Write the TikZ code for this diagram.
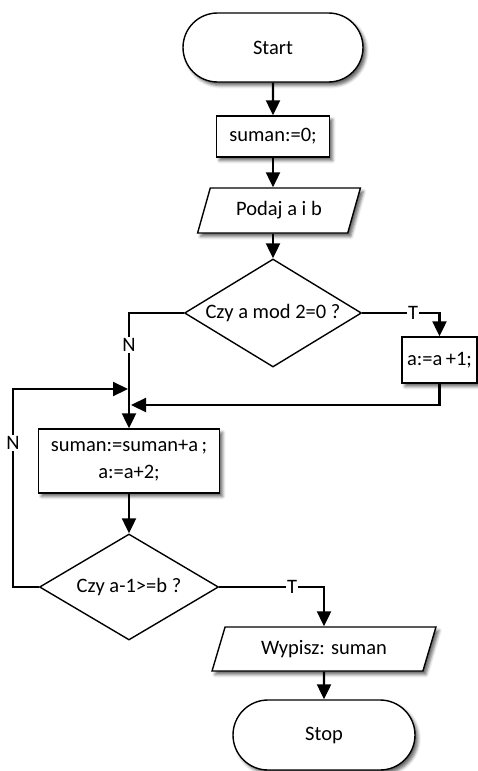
\documentclass[tikz,border=0pt]{standalone}
\usepackage{fontspec}
\setmainfont{Carlito}
\usetikzlibrary{shapes.geometric,shapes.misc,arrows.meta,shadows.blur}

\begin{document}
\begin{tikzpicture}[x=1pt,y=-1pt,
  font=\fontsize{20.5}{27}\selectfont,
  shapebase/.style={draw=black, line width=1.4pt, fill=white, inner sep=0pt},
  softshadow/.style={blur shadow={shadow xshift=3pt, shadow yshift=-3.5pt,
      shadow blur radius=3pt, shadow opacity=60}},
  terminal/.style={shapebase, softshadow, rounded rectangle},
  process/.style={shapebase, softshadow, rectangle, align=center},
  io/.style={shapebase, softshadow, trapezium, trapezium stretches=true},
  decision/.style={shapebase, diamond},
  flow/.style={line width=2.2pt, -{Triangle[length=15pt,width=14pt]}},
  branch/.style={fill=white, inner sep=1pt}
]
\useasboundingbox (0,0) rectangle (478,771);

% blocks
\node[terminal, minimum width=180pt, minimum height=69pt] (start) at (273,47.5) {Start};
\node[process, minimum width=113pt, minimum height=41pt] (s0) at (273,136.5) {suman:=0;};
\node[io, trapezium left angle=66, trapezium right angle=114,
      minimum width=163pt, minimum height=45pt] (in1) at (279,210.5) {Podaj a i b};
\node[decision, aspect=1.64, minimum width=177pt, minimum height=108pt] (d1) at (273,313) {Czy a mod 2=0 ?};
\node[process, minimum width=75pt, minimum height=46pt] (a1) at (439.5,360) {a:=a\,+1;};
\node[process, minimum width=181pt, minimum height=64pt] (s1) at (129,461)
     {suman:=suman+a\,;\\a:=a+2;};
\node[decision, aspect=1.69, minimum width=179pt, minimum height=106pt] (d2) at (129,587) {Czy a-1>=b ?};
\node[io, trapezium left angle=64.5, trapezium right angle=115.5,
      minimum width=224pt, minimum height=44pt] (out) at (324,649) {Wypisz: suman};
\node[terminal, minimum width=182pt, minimum height=70pt] (stop) at (324,735) {Stop};

% junction points on the main column
\coordinate (jleft) at (128,389);
\coordinate (jright) at (131,405);
\coordinate (loopcorner) at (13,389);

% connectors
\draw[flow] (start) -- (s0);
\draw[flow] (s0.south) -- (s0.south |- in1.north);
\draw[flow] (in1.south -| s0.south) -- (d1.north);
\draw[flow] (d1.west) -| (s1.north);
\draw[flow] (d1.east) -| (a1.north);
\draw[flow] (a1.south) |- (jright);
\draw[flow] (s1) -- (d2);
\draw[flow] (d2.west) -| (loopcorner) -- (jleft);
\draw[flow] (d2.east) -| (out.north);
\draw[flow] (out) -- (stop);

% branch labels
\node[branch] (n1) at (129,345) {N};
\node[branch] (t1) at (413,313) {T};
\node[branch] (n2) at (13,443) {N};
\node[branch] (t2) at (292,587) {T};
\end{tikzpicture}
\end{document}
